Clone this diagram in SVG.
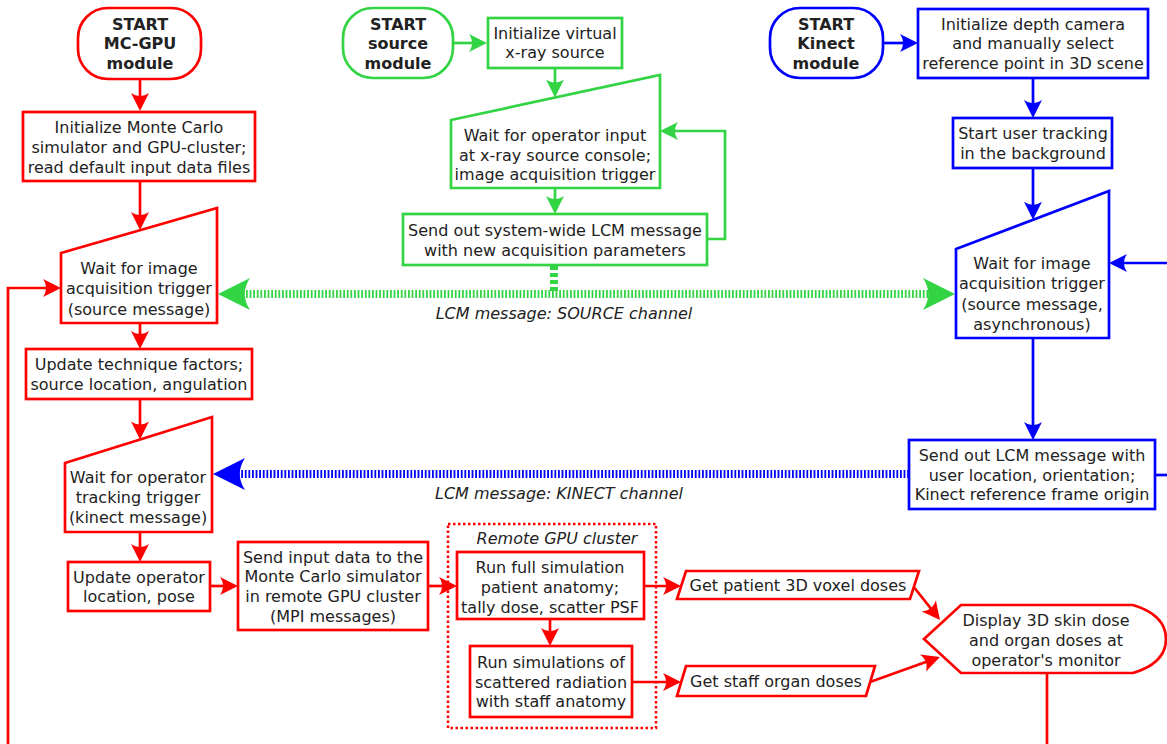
<svg xmlns="http://www.w3.org/2000/svg" width="1167" height="744" viewBox="0 0 1167 744">
<defs>
<style>
text{font-family:"DejaVu Sans","Liberation Sans",sans-serif;font-size:16px;fill:#222;text-anchor:middle}
.t{font-weight:bold}
.i{font-style:italic}
.r{fill:#fff;stroke:#f00;stroke-width:2.7}
.g{fill:#fff;stroke:#33d444;stroke-width:2.7}
.b{fill:#fff;stroke:#00f;stroke-width:2.7}
.cr{fill:none;stroke:#f00;stroke-width:2.7}
.cg{fill:none;stroke:#33d444;stroke-width:2.7}
.cb{fill:none;stroke:#00f;stroke-width:2.7}
.dr{fill:none;stroke:#f00;stroke-width:2.5;stroke-dasharray:2.5 2.5}
.dg{fill:none;stroke:#33d444;stroke-width:8;stroke-dasharray:1.8 1.8}
.dgv{fill:none;stroke:#33d444;stroke-width:8;stroke-dasharray:4 3}
.db{fill:none;stroke:#00f;stroke-width:8;stroke-dasharray:1.8 1.8}
</style>
<marker id="ar" viewBox="-22 -10 24 20" markerWidth="24" markerHeight="20" refX="-4" refY="0" orient="auto" markerUnits="userSpaceOnUse"><path d="M0,0 L-18,-9 C-14,-3 -14,3 -18,9 Z" fill="#f00"/></marker>
<marker id="ag" viewBox="-22 -10 24 20" markerWidth="24" markerHeight="20" refX="-4" refY="0" orient="auto" markerUnits="userSpaceOnUse"><path d="M0,0 L-18,-9 C-14,-3 -14,3 -18,9 Z" fill="#33d444"/></marker>
<marker id="ab" viewBox="-22 -10 24 20" markerWidth="24" markerHeight="20" refX="-4" refY="0" orient="auto" markerUnits="userSpaceOnUse"><path d="M0,0 L-18,-9 C-14,-3 -14,3 -18,9 Z" fill="#00f"/></marker>
<marker id="bg" viewBox="-34 -18 36 36" markerWidth="36" markerHeight="36" refX="-10" refY="0" orient="auto-start-reverse" markerUnits="userSpaceOnUse"><path d="M0,0 L-32,-16 C-25,-5 -25,5 -32,16 Z" fill="#33d444"/></marker>
<marker id="bb" viewBox="-34 -18 36 36" markerWidth="36" markerHeight="36" refX="-10" refY="0" orient="auto" markerUnits="userSpaceOnUse"><path d="M0,0 L-32,-16 C-25,-5 -25,5 -32,16 Z" fill="#00f"/></marker>
</defs>
<rect width="1167" height="744" fill="#fff"/>

<g id="connectors">
<path class="cr" d="M140,79 V107" marker-end="url(#ar)"/>
<path class="cr" d="M140,181 V226" marker-end="url(#ar)"/>
<path class="cr" d="M140,323 V345" marker-end="url(#ar)"/>
<path class="cr" d="M140,399 V435.5" marker-end="url(#ar)"/>
<path class="cr" d="M140,532 V558" marker-end="url(#ar)"/>
<path class="cr" d="M210,586 H234" marker-end="url(#ar)"/>
<path class="cr" d="M428,586 H453" marker-end="url(#ar)"/>
<path class="cr" d="M550,619 V642" marker-end="url(#ar)"/>
<path class="cr" d="M644,586 H677" marker-end="url(#ar)"/>
<path class="cr" d="M632,682 H677" marker-end="url(#ar)"/>
<path class="cr" d="M913,586 L937.5,616.9" marker-end="url(#ar)"/>
<path class="cr" d="M870,682 L936.2,658.3" marker-end="url(#ar)"/>
<path class="cr" d="M8,744 V288 H57" marker-end="url(#ar)"/>
<path class="cr" d="M1047,673 V744"/>
<path class="cg" d="M453,43 H483" marker-end="url(#ag)"/>
<path class="cg" d="M555,68 V93.6" marker-end="url(#ag)"/>
<path class="cg" d="M555,188 V210" marker-end="url(#ag)"/>
<path class="cg" d="M707,239 H725 V131 H664" marker-end="url(#ag)"/>
<path class="cb" d="M883,43 H914" marker-end="url(#ab)"/>
<path class="cb" d="M1033,78 V114" marker-end="url(#ab)"/>
<path class="cb" d="M1033,168 V215.8" marker-end="url(#ab)"/>
<path class="cb" d="M1167,263 H1113" marker-end="url(#ab)"/>
<path class="cb" d="M1033,338 V436" marker-end="url(#ab)"/>
<path class="cb" d="M1155,475 H1167"/>
<path class="dgv" d="M554,266 V294"/>
<path class="dg" d="M228,294 H945" marker-start="url(#bg)" marker-end="url(#bg)"/>
<path class="db" d="M909,474 H223" marker-end="url(#bb)"/>
<text class="i" x="564" y="319">LCM message: SOURCE channel</text>
<text class="i" x="559" y="499">LCM message: KINECT channel</text>
</g>

<g id="start-mcgpu">
<rect class="r" x="78" y="8" width="123" height="71" rx="30"/>
<text class="t" x="140" y="30">START</text>
<text class="t" x="140" y="49">MC-GPU</text>
<text class="t" x="140" y="69">module</text>
</g>
<g id="init-mc">
<rect class="r" x="23" y="112" width="232" height="69"/>
<text x="139" y="133">Initialize Monte Carlo</text>
<text x="139" y="153">simulator and GPU-cluster;</text>
<text x="139" y="173">read default input data files</text>
</g>
<g id="wait-image">
<polygon class="r" points="61,253 217,208 217,323 61,323"/>
<text x="139" y="274">Wait for image</text>
<text x="139" y="294">acquisition trigger</text>
<text x="139" y="315">(source message)</text>
</g>
<g id="update-technique">
<rect class="r" x="26" y="349" width="226" height="50"/>
<text x="139" y="370">Update technique factors;</text>
<text x="139" y="390">source location, angulation</text>
</g>
<g id="wait-operator">
<polygon class="r" points="65,463 212,417 212,532 65,532"/>
<text x="138" y="483">Wait for operator</text>
<text x="138" y="503">tracking trigger</text>
<text x="138" y="523">(kinect message)</text>
</g>
<g id="update-operator">
<rect class="r" x="68" y="562" width="142" height="49"/>
<text x="139" y="583">Update operator</text>
<text x="139" y="602">location, pose</text>
</g>
<g id="send-input">
<rect class="r" x="238" y="542" width="190" height="88"/>
<text x="333" y="563">Send input data to the</text>
<text x="333" y="582">Monte Carlo simulator</text>
<text x="333" y="602">in remote GPU cluster</text>
<text x="333" y="622">(MPI messages)</text>
</g>
<g id="remote-cluster">
<rect class="dr" x="448" y="524" width="208" height="204"/>
<text class="i" x="557" y="544">Remote GPU cluster</text>
</g>
<g id="run-full">
<rect class="r" x="457" y="552" width="187" height="67"/>
<text x="550" y="573">Run full simulation</text>
<text x="550" y="593">patient anatomy;</text>
<text x="550" y="613">tally dose, scatter PSF</text>
</g>
<g id="run-scatter">
<rect class="r" x="470" y="646" width="162" height="71"/>
<text x="551" y="668">Run simulations of</text>
<text x="551" y="688">scattered radiation</text>
<text x="551" y="707">with staff anatomy</text>
</g>
<g id="get-patient">
<polygon class="r" points="686,571 919,571 910,599 677,599"/>
<text x="798" y="591">Get patient 3D voxel doses</text>
</g>
<g id="get-staff">
<polygon class="r" points="686,666 875,666 866,696 677,696"/>
<text x="776" y="687">Get staff organ doses</text>
</g>
<g id="display">
<path class="r" d="M924,639 L961,605 H1133 Q1166,615 1166,639 Q1166,663 1133,673 H961 Z"/>
<text x="1046" y="626">Display 3D skin dose</text>
<text x="1046" y="646">and organ doses at</text>
<text x="1046" y="666">operator's monitor</text>
</g>

<g id="start-source">
<rect class="g" x="343" y="8" width="110" height="70" rx="30"/>
<text class="t" x="398" y="30">START</text>
<text class="t" x="398" y="49">source</text>
<text class="t" x="398" y="69">module</text>
</g>
<g id="init-source">
<rect class="g" x="488" y="18" width="134" height="50"/>
<text x="555" y="39">Initialize virtual</text>
<text x="555" y="58">x-ray source</text>
</g>
<g id="wait-input">
<polygon class="g" points="451,120 660,75 660,188 451,188"/>
<text x="555" y="141">Wait for operator input</text>
<text x="555" y="161">at x-ray source console;</text>
<text x="555" y="180">image acquisition trigger</text>
</g>
<g id="send-lcm">
<rect class="g" x="403" y="214" width="304" height="51"/>
<text x="555" y="236">Send out system-wide LCM message</text>
<text x="555" y="256">with new acquisition parameters</text>
</g>

<g id="start-kinect">
<rect class="b" x="770" y="8" width="113" height="70" rx="30"/>
<text class="t" x="826" y="30">START</text>
<text class="t" x="826" y="49">Kinect</text>
<text class="t" x="826" y="69">module</text>
</g>
<g id="init-depth">
<rect class="b" x="918" y="9" width="230" height="69"/>
<text x="1033" y="30">Initialize depth camera</text>
<text x="1033" y="49">and manually select</text>
<text x="1033" y="69">reference point in 3D scene</text>
</g>
<g id="start-tracking">
<rect class="b" x="953" y="118" width="159" height="50"/>
<text x="1033" y="139">Start user tracking</text>
<text x="1033" y="159">in the background</text>
</g>
<g id="wait-kinect">
<polygon class="b" points="956,249 1109,191 1109,338 956,338"/>
<text x="1032" y="269">Wait for image</text>
<text x="1032" y="289">acquisition trigger</text>
<text x="1032" y="310">(source message,</text>
<text x="1032" y="330">asynchronous)</text>
</g>
<g id="send-kinect">
<rect class="b" x="909" y="440" width="246" height="69"/>
<text x="1032" y="461">Send out LCM message with</text>
<text x="1032" y="481">user location, orientation;</text>
<text x="1032" y="500">Kinect reference frame origin</text>
</g>
</svg>
